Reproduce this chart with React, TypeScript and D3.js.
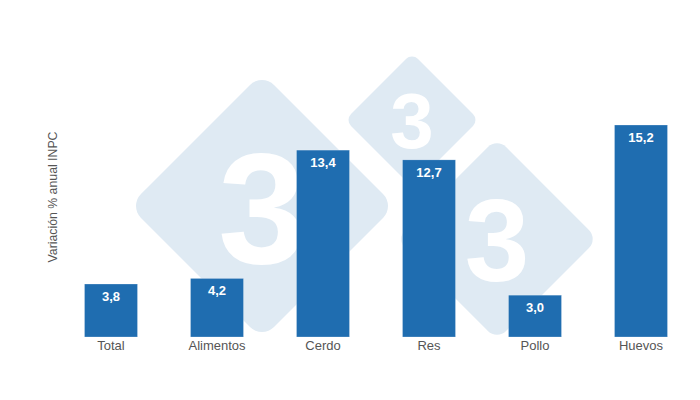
import { useEffect, useRef } from 'react';
import * as d3 from 'd3';

const categories = ['Total', 'Alimentos', 'Cerdo', 'Res', 'Pollo', 'Huevos'];
const values = [3.8, 4.2, 13.4, 12.7, 3.0, 15.2];
const yTitle = 'Variación % anual INPC';

// background logo: [cx, cy, half diagonal, digit size]
const logos: [number, number, number, number][] = [
  [262, 206, 133, 158],
  [412, 120, 67, 78],
  [497, 239, 101, 116],
];

const W = 700;
const H = 400;
const FONT = 'Arial, Liberation Sans, sans-serif';

export default function App() {
  const svgRef = useRef<SVGSVGElement>(null);

  useEffect(() => {
    if (!svgRef.current) return;
    const svg = d3.select(svgRef.current);
    svg.selectAll('*').remove();

    // watermark
    const wm = svg.append('g');
    logos.forEach(([cx, cy, r, fs]) => {
      const side = r * Math.SQRT2;
      wm.append('rect')
        .attr('x', -side / 2)
        .attr('y', -side / 2)
        .attr('width', side)
        .attr('height', side)
        .attr('rx', side * 0.09)
        .attr('fill', '#dfeaf3')
        .attr('transform', `translate(${cx},${cy}) rotate(45)`);
      wm.append('text')
        .attr('x', cx)
        .attr('y', cy + fs * 0.358)
        .attr('text-anchor', 'middle')
        .attr('font-family', FONT)
        .attr('font-weight', 'bold')
        .attr('font-size', fs)
        .attr('fill', '#fff')
        .text('3');
    });

    const x = d3.scaleBand()
      .domain(categories)
      .range([58, 694])
      .paddingInner(0.5)
      .paddingOuter(0.25);

    const y = d3.scaleLinear()
      .domain([0, 15.2])
      .range([337, 125]);

    const g = svg.append('g');
    g.selectAll('rect.bar')
      .data(values)
      .enter()
      .append('rect')
      .attr('class', 'bar')
      .attr('x', (_, i) => x(categories[i])!)
      .attr('y', d => y(d))
      .attr('width', x.bandwidth())
      .attr('height', d => y(0) - y(d))
      .attr('fill', '#1f6db0')
      .attr('stroke', '#ffffff')
      .attr('stroke-opacity', 0.5)
      .attr('stroke-width', 0.5);

    g.selectAll('text.val')
      .data(values)
      .enter()
      .append('text')
      .attr('class', 'val')
      .attr('x', (_, i) => x(categories[i])! + x.bandwidth() / 2)
      .attr('y', d => y(d) + 17)
      .attr('text-anchor', 'middle')
      .attr('font-family', FONT)
      .attr('font-weight', 'bold')
      .attr('font-size', 13)
      .attr('fill', '#fff')
      .text(d => d.toFixed(1).replace('.', ','));

    const axis = d3.axisBottom(x).tickSize(0).tickPadding(4);
    const ax = svg.append('g')
      .attr('transform', `translate(0,${y(0)})`)
      .call(axis);
    ax.select('.domain').remove();
    ax.selectAll('text')
      .attr('font-family', FONT)
      .attr('font-size', 13)
      .attr('fill', '#555');

    svg.append('text')
      .attr('transform', `translate(57,${197}) rotate(-90)`)
      .attr('text-anchor', 'middle')
      .attr('font-family', FONT)
      .attr('font-size', 12.3)
      .attr('fill', '#555')
      .text(yTitle);
  }, []);

  return (
    <svg
      ref={svgRef}
      width={W}
      height={H}
      style={{ position: 'absolute', left: 0, top: 0, background: '#fff' }}
    />
  );
}
